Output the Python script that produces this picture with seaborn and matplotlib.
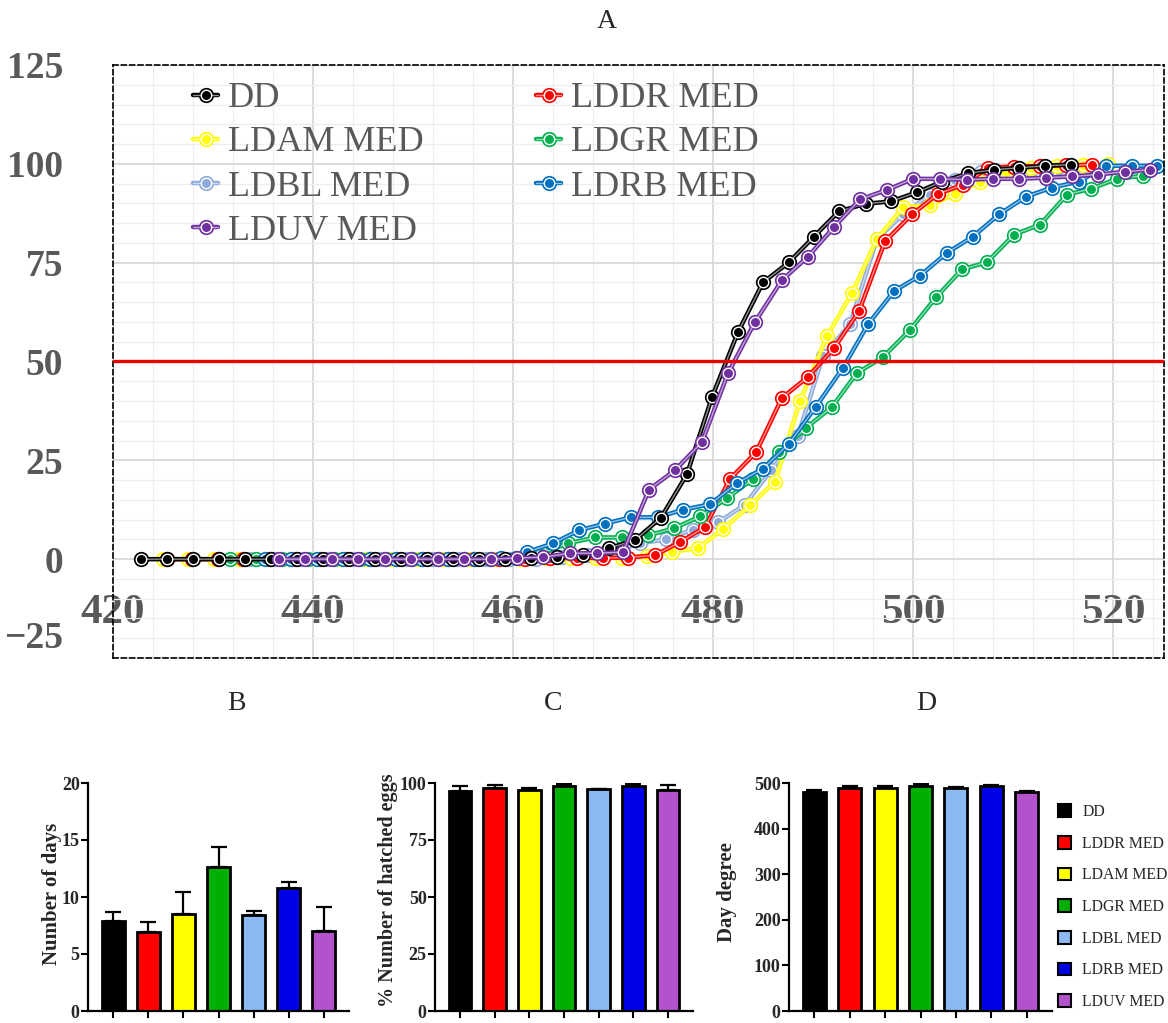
import numpy as np
import pandas as pd
import matplotlib
matplotlib.use('Agg')
import matplotlib.pyplot as plt
import matplotlib.colors as mcolors
import matplotlib.transforms as mtransforms
from matplotlib.lines import Line2D
from matplotlib.patches import Patch
from matplotlib.ticker import MultipleLocator
import seaborn as sns

sns.set_style('white')
plt.rcParams['font.family'] = ['Liberation Serif', 'DejaVu Serif']

# ---------------- Panel A data (cumulative % hatching vs day degrees) ----------------
dd_x = [422.8, 425.4, 428.0, 430.6, 433.2, 435.8, 438.4, 441.0, 443.6, 446.2, 448.8, 451.4, 454.0, 456.6, 459.2,
        461.8, 464.4, 467.0, 469.6, 472.2, 474.8, 477.4, 479.9, 482.5, 485.0, 487.6, 490.1, 492.6, 495.3, 497.8,
        500.4, 502.9, 505.5, 508.1, 510.6, 513.2, 515.8]
dd_y = [0, 0, 0, 0, 0, 0, 0, 0, 0, 0, 0, 0, 0, 0, 0,
        0.2, 0.5, 1.0, 2.8, 4.8, 10.5, 21.5, 41.0, 57.4, 70.0, 75.1, 81.6, 88.0, 89.9, 90.5,
        92.8, 95.5, 97.6, 98.5, 99.0, 99.5, 99.8]

lddr_x = [425.4, 427.9, 430.5, 433.0, 435.6, 438.2, 440.7, 443.3, 445.8, 448.4, 451.0, 453.5, 456.1, 458.6, 461.2,
          463.7, 466.4, 469.0, 471.5, 474.2, 476.7, 479.2, 481.7, 484.3, 486.9, 489.5, 492.1, 494.6, 497.2, 499.9,
          502.5, 505.0, 507.5, 510.1, 512.7, 515.3, 517.9]
lddr_y = [0, 0, 0, 0, 0, 0, 0, 0, 0, 0, 0, 0, 0, 0, 0,
          0.2, 0.3, 0.3, 0.4, 1.0, 4.3, 8.1, 20.3, 27.0, 40.8, 46.1, 53.4, 62.7, 80.4, 87.2,
          92.4, 94.7, 99.0, 99.3, 99.5, 99.6, 99.8]

ldam_x = [425.0, 427.5, 430.1, 432.6, 435.2, 437.7, 440.3, 442.8, 445.4, 447.9, 450.5, 453.0, 455.6, 458.1, 460.7,
          463.2, 465.8, 468.3, 470.9, 473.4, 475.9, 478.5, 481.0, 483.7, 486.2, 488.7, 491.4, 493.9, 496.4, 499.0,
          501.7, 504.2, 506.7, 509.3, 511.8, 514.4, 517.0, 519.5]
ldam_y = [0, 0, 0, 0, 0, 0, 0, 0, 0, 0, 0, 0, 0, 0, 0,
          0.2, 0.2, 0.3, 0.4, 0.8, 1.8, 2.8, 7.6, 13.6, 19.6, 40.0, 56.4, 67.3, 81.0, 89.0,
          89.5, 92.3, 95.5, 98.0, 99.0, 99.5, 99.8, 100.0]

ldgr_x = [431.7, 434.3, 436.9, 439.5, 442.1, 444.7, 447.3, 449.9, 452.5, 455.1, 457.7, 460.3,
          462.9, 465.5, 468.2, 470.9, 473.5, 476.1, 478.7, 481.4, 484.0, 486.6, 489.3, 491.9,
          494.4, 497.0, 499.7, 502.3, 504.9, 507.4, 510.1, 512.7, 515.4, 517.8, 520.4, 523.0]
ldgr_y = [0, 0, 0, 0, 0, 0, 0, 0, 0, 0, 0, 0.3,
          1.5, 4.0, 5.5, 5.5, 6.0, 7.8, 10.8, 15.4, 20.3, 27.0, 33.2, 38.5,
          47.1, 51.1, 58.0, 66.2, 73.3, 75.1, 82.1, 84.6, 92.2, 93.7, 96.2, 97.0]

ldbl_x = [433.7, 436.3, 438.9, 441.5, 444.1, 446.7, 449.3, 451.9, 454.5, 457.1, 459.7, 462.3,
          464.9, 467.5, 470.1, 472.7, 475.3, 478.0, 480.5, 483.2, 485.8, 488.5, 491.0, 493.7,
          496.4, 499.0, 501.7, 504.2, 506.8, 509.4, 512.0, 514.6, 517.2]
ldbl_y = [0, 0, 0, 0, 0, 0, 0, 0, 0, 0, 0, 0,
          0.5, 1.0, 2.0, 4.0, 5.0, 7.5, 9.3, 13.8, 22.5, 31.2, 51.4, 59.4,
          81.0, 87.2, 92.2, 96.0, 98.0, 98.0, 98.0, 98.2, 98.8]

ldrb_x = [435.2, 437.8, 440.4, 443.0, 445.7, 448.3, 450.9, 453.5, 456.2, 458.8,
          461.4, 464.0, 466.6, 469.2, 471.8, 474.5, 477.0, 479.7, 482.4, 485.0, 487.6, 490.3, 493.0,
          495.5, 498.1, 500.7, 503.4, 506.0, 508.6, 511.3, 513.9, 516.6, 519.3, 521.9, 524.4]
ldrb_y = [0, 0, 0, 0, 0, 0, 0, 0, 0, 0.3,
          1.8, 4.0, 7.3, 9.0, 10.6, 10.6, 12.5, 13.9, 19.2, 22.9, 29.2, 38.6, 48.4,
          59.4, 67.8, 71.7, 77.5, 81.6, 87.2, 91.7, 94.0, 95.5, 99.5, 99.5, 99.5]

lduv_x = [436.6, 439.2, 441.9, 444.5, 447.2, 449.8, 452.5, 455.1, 457.8,
          460.4, 463.0, 465.7, 468.4, 471.0, 473.6, 476.2, 478.9, 481.5, 484.2, 486.9, 489.5, 492.1,
          494.7, 497.4, 500.0, 502.7, 505.4, 508.0, 510.6, 513.3, 515.9, 518.5, 521.2, 523.7]
lduv_y = [0, 0, 0, 0, 0, 0, 0, 0, 0,
          0.3, 0.5, 1.5, 1.5, 1.8, 17.6, 22.5, 29.6, 47.0, 60.0, 70.6, 76.5, 84.0,
          91.0, 93.4, 96.2, 96.2, 96.0, 96.2, 96.2, 96.5, 96.8, 97.3, 98.0, 98.5]

line_names = ['DD', 'LDAM MED', 'LDBL MED', 'LDUV MED', 'LDDR MED', 'LDGR MED', 'LDRB MED']
line_colors = {'DD': '#000000', 'LDDR MED': '#FF0000', 'LDAM MED': '#FFFF00', 'LDGR MED': '#00B050',
               'LDBL MED': '#8FAADC', 'LDRB MED': '#0070C0', 'LDUV MED': '#7030A0'}
series = {'DD': (dd_x, dd_y), 'LDDR MED': (lddr_x, lddr_y), 'LDAM MED': (ldam_x, ldam_y),
          'LDGR MED': (ldgr_x, ldgr_y), 'LDBL MED': (ldbl_x, ldbl_y), 'LDRB MED': (ldrb_x, ldrb_y),
          'LDUV MED': (lduv_x, lduv_y)}
draw_order = ['LDBL MED', 'LDAM MED', 'LDDR MED', 'LDGR MED', 'LDRB MED', 'DD', 'LDUV MED']

threshold = 50

# ---------------- Bar panels data ----------------
bar_names = ['DD', 'LDDR MED', 'LDAM MED', 'LDGR MED', 'LDBL MED', 'LDRB MED', 'LDUV MED']
bar_colors = ['#000000', '#FF0000', '#FFFF00', '#00B000', '#8DB9F2', '#0000E6', '#B452CD']
days_mean = [7.9, 6.9, 8.5, 12.6, 8.4, 10.8, 7.0]
days_err = [0.8, 0.9, 1.95, 1.8, 0.4, 0.5, 2.1]
hatch_mean = [96.3, 97.8, 97.1, 98.8, 97.5, 98.8, 97.1]
hatch_err = [2.4, 1.3, 0.8, 0.8, 0.0, 0.8, 1.9]
dd_mean = [481, 489, 488, 494, 488, 492.7, 480]
dd_err = [3.6, 5.0, 4.7, 3.8, 4.0, 3.6, 3.0]

W, H = 1168, 1023
fig = plt.figure(figsize=(W / 100, H / 100), dpi=100)


def fx(px):
    return px / W


def fy(py):
    return 1 - py / H


def lighten(c, amt=0.55):
    r, g, b = mcolors.to_rgb(c)
    return (r + (1 - r) * amt, g + (1 - g) * amt, b + (1 - b) * amt)


gray = '#595959'

# ---------------- Panel A ----------------
axA = fig.add_axes([fx(113), fy(658), fx(1164) - fx(113), fy(65) - fy(658)])
dfA = pd.concat([pd.DataFrame({'x': series[n][0], 'y': series[n][1], 'group': n}) for n in line_names],
                ignore_index=True)
for n in draw_order:
    sub = dfA[dfA['group'] == n]
    c = line_colors[n]
    sns.lineplot(data=sub, x='x', y='y', color=c, estimator=None, sort=False, marker='o',
                 markersize=11, mew=0, mec=c, linewidth=3.2, ax=axA, legend=False)
    k = len(axA.lines)
    sns.lineplot(data=sub, x='x', y='y', color=c, estimator=None, sort=False, marker='o',
                 markersize=7.5, mew=1.0, mec='white', linewidth=1.0, ax=axA, legend=False)
    for ln in axA.lines[k:]:
        ln.set_markerfacecolor(c)
        ln.set_color(lighten(c))

axA.axhline(threshold, color='#EE0000', lw=2.4, zorder=5)
axA.set_xlim(420, 525.1)
axA.set_ylim(-25, 125)
axA.set_xticks([420, 440, 460, 480, 500, 520])
axA.set_yticks([-25, 0, 25, 50, 75, 100, 125])
axA.xaxis.set_minor_locator(MultipleLocator(4))
axA.yaxis.set_minor_locator(MultipleLocator(5))
axA.grid(which='major', color='#d6d6d6', lw=1.2)
axA.grid(which='minor', color='#eeeeee', lw=0.9)
axA.set_axisbelow(True)
axA.tick_params(axis='x', which='both', length=0, pad=-46, labelsize=31, labelcolor=gray)
axA.tick_params(axis='y', which='both', length=0, pad=36, labelsize=27, labelcolor=gray)
for lab in axA.get_xticklabels() + axA.get_yticklabels():
    lab.set_fontweight('bold')
axA.set_xlabel('')
axA.set_ylabel('')
for sp in axA.spines.values():
    sp.set_visible(True)
    sp.set_linestyle((0, (3, 2)))
    sp.set_linewidth(1.2)
    sp.set_color('black')

# the lowest y label sits a little above its gridline in the reference
low_lab = axA.yaxis.get_major_ticks()[0].label1
low_lab.set_transform(low_lab.get_transform() +
                      mtransforms.ScaledTranslation(0, 24 / 100, fig.dpi_scale_trans))

handles = []
for n in line_names:
    c = line_colors[n]
    outer = Line2D([], [], color=c, lw=3.2, marker='o', markersize=11, mew=0)
    inner = Line2D([], [], color=lighten(c), lw=1.0, marker='o', markersize=7.5, mfc=c, mec='white', mew=1.0)
    handles.append((outer, inner))
legA = axA.legend(handles, line_names, ncol=2, loc='upper left', bbox_to_anchor=(fx(193), fy(82)),
                  bbox_transform=fig.transFigure, frameon=False, fontsize=26, handlelength=0.7,
                  handletextpad=0.28, labelspacing=0.3, columnspacing=3.1, borderpad=0, borderaxespad=0)
for t in legA.get_texts():
    t.set_color(gray)

fig.text(fx(607), fy(22), 'A', ha='center', va='center', fontsize=20)

# ---------------- Bar panels ----------------
def bar_panel(left_px, right_px, means, errs, ymax, ystep, ylabel, label_x, label_y, label_size):
    ax = fig.add_axes([fx(left_px), fy(1011), fx(right_px) - fx(left_px), fy(783) - fy(1011)])
    df = pd.DataFrame({'group': bar_names, 'value': means})
    sns.barplot(data=df, x='group', y='value', hue='group', order=bar_names, hue_order=bar_names,
                palette=dict(zip(bar_names, bar_colors)), saturation=1, width=0.65, dodge=False,
                edgecolor='black', linewidth=2, errorbar=None, legend=False, ax=ax)
    ax.errorbar(np.arange(len(bar_names)), means, yerr=[np.zeros(len(errs)), errs], fmt='none',
                ecolor='black', elinewidth=1.6, capsize=6, capthick=1.6, zorder=1)
    ax.set_xlim(-0.72, 6.72)
    ax.set_ylim(0, ymax)
    ax.set_yticks(np.arange(0, ymax + 1e-9, ystep))
    ax.set_xticks(range(len(bar_names)))
    ax.set_xticklabels([])
    ax.set_xlabel('')
    ax.set_ylabel(ylabel, fontsize=label_size, fontweight='bold')
    ax.yaxis.set_label_coords(label_x, label_y)
    for s in ['top', 'right']:
        ax.spines[s].set_visible(False)
    for s in ['left', 'bottom']:
        ax.spines[s].set_linewidth(1.6)
        ax.spines[s].set_color('black')
    ax.tick_params(axis='both', direction='out', length=5, width=1.5, color='black',
                   labelsize=13, pad=1, left=True, bottom=True)
    for lab in ax.get_yticklabels():
        lab.set_fontweight('bold')
    return ax


axB = bar_panel(88, 349, days_mean, days_err, 20, 5, 'Number of days', -0.099, 0.515, 15)
axC = bar_panel(435, 693, hatch_mean, hatch_err, 100, 25, '% Number of hatched eggs', -0.145, 0.53, 14.5)
axD = bar_panel(789, 1052, dd_mean, dd_err, 500, 100, 'Day degree', -0.198, 0.52, 15)

fig.text(fx(236), fy(703), 'B', ha='center', va='center', fontsize=20)
fig.text(fx(553), fy(703), 'C', ha='center', va='center', fontsize=20)
fig.text(fx(926), fy(703), 'D', ha='center', va='center', fontsize=20)

patches = [Patch(facecolor=c, edgecolor='black', lw=1.5) for c in bar_colors]
fig.legend(patches, bar_names, loc='upper left', bbox_to_anchor=(fx(1058), fy(804)), frameon=False,
           fontsize=11.3, handlelength=0.85, handleheight=0.85, labelspacing=1.0, handletextpad=0.7,
           borderpad=0, borderaxespad=0)

fig.savefig('out.png', dpi=100)
